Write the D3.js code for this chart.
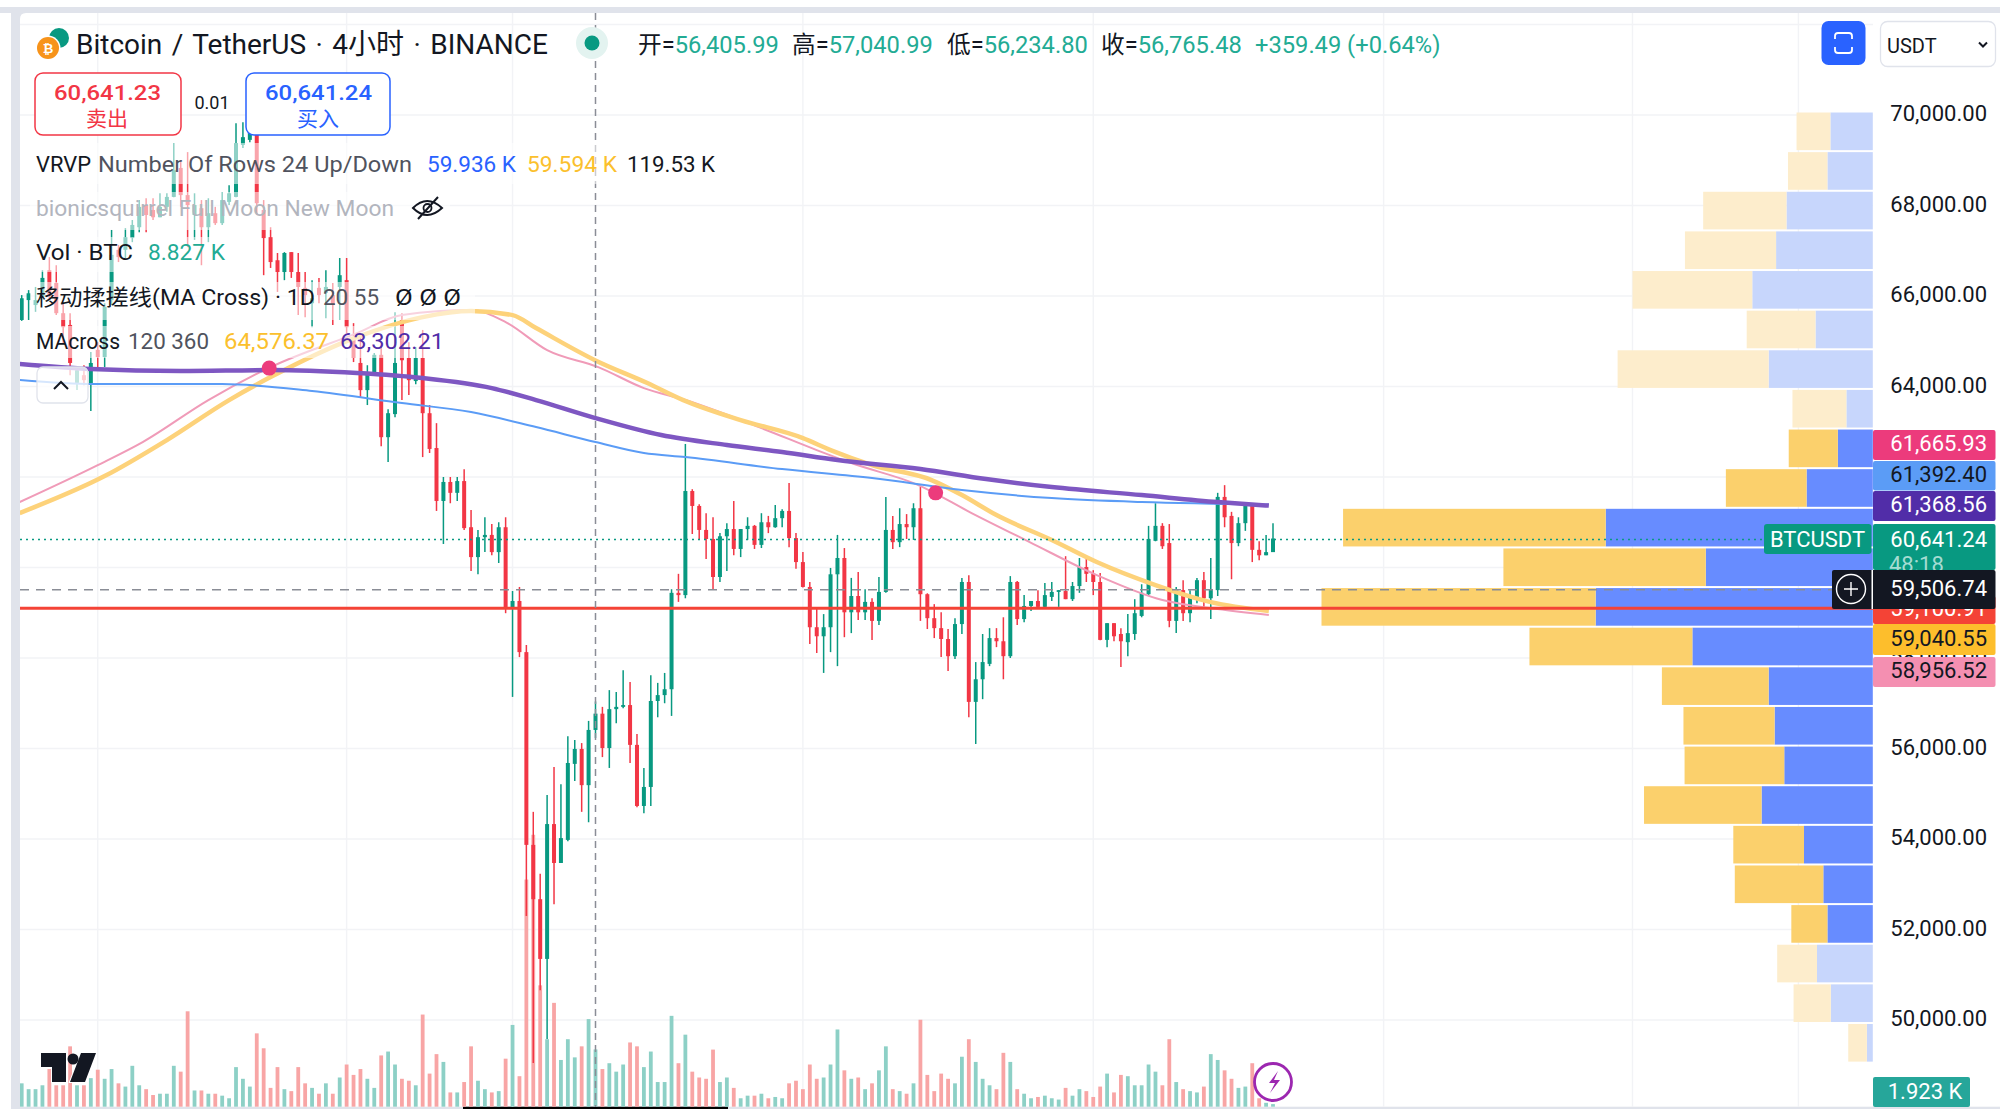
<!DOCTYPE html>
<html>
<head>
<meta charset="utf-8">
<script src="https://cdn.jsdelivr.net/npm/d3@7"></script>
<style>
  html, body { margin: 0; padding: 0; background: #fff; }
  svg { display: block; }
  text { font-family: Roboto, "Noto Sans CJK SC", sans-serif; }
</style>
</head>
<body>
<div id="root"></div>
<script>
const width = 2000;
const height = 1109;

const opens = [
  65470,65910,65800,65980,66570,66290,65620,65360,64080,64250,
  64050,64810,64650,65910,67020,67020,67280,67520,68010,67900,
  67740,67970,68190,68830,68230,67790,67940,67520,67830,67610,
  68080,68190,69340,69450,69560,67900,67300,66790,66530,66970,
  66530,66180,65840,66180,66070,66020,66200,66350,65090,64520,
  63920,64300,64700,62880,63390,65470,64630,64120,64630,63410,
  62640,61470,61890,61650,61910,60890,60230,60670,60720,60340,
  60890,59120,59260,58130,53870,52670,51350,54330,53470,53980,
  55660,55990,55190,56410,56770,56010,56870,56920,56960,56080,
  54730,55150,57050,57180,57310,59440,59390,61690,61360,60830,
  60630,59790,60690,60850,60410,60850,60920,60500,61000,60890,
  61090,61250,60650,60120,59570,58680,58480,58680,59850,60210,
  59010,59370,59010,59240,58820,59460,60830,60560,60960,60890,
  61310,59410,58880,58660,58420,58040,58750,59680,57030,57530,
  57870,58440,58370,58040,59680,58860,59150,59260,59130,59350,
  59460,59480,59300,59590,60010,59860,59680,58400,58770,58530,
  58350,58530,58930,59410,60590,60920,60540,58820,59500,58990,
  59300,59720,59320,59500,61560,61140,60540,60980,61360,60390,
  60270,60340
];
const highs = [
  66020,66130,66200,66570,66860,66680,65870,65620,64450,64470,
  64760,64980,65840,67460,67130,67500,67680,68120,68160,68160,
  68270,68270,69380,68960,69180,68270,68120,68160,67970,68300,
  68450,69820,69840,69840,69890,68120,67520,66950,66970,66970,
  66950,66530,66350,66400,66570,66290,66840,66840,65400,65140,
  64470,64740,64920,63500,65640,65620,64980,64870,65250,63590,
  63190,62000,62000,62000,62170,61270,60830,61110,60960,61000,
  61110,59480,59570,58290,54600,53230,54970,55590,55210,56270,
  56190,56120,56610,57040,56920,57290,57250,57730,57470,56320,
  55570,57620,57450,57670,59520,59860,62730,61730,61400,61200,
  61110,60760,60980,61470,60850,61110,60940,61200,61140,61380,
  61290,61870,60760,60340,59680,59100,58970,59990,60720,60430,
  59770,59900,59520,59320,59790,61560,61140,61310,61180,61420,
  61780,59430,59190,59010,58640,58880,59770,59830,57910,58530,
  58660,58660,58900,59810,59700,59390,59260,59500,59660,59680,
  59500,60250,59680,60210,60250,59940,59880,58770,58770,58660,
  58970,59300,59630,60920,61420,60980,60960,59570,59720,59500,
  59770,59900,60210,61650,61820,61230,61110,61420,61380,60580,
  60720,60980
];
const lows = [
  65450,65470,65650,65970,65910,65580,64960,64250,63920,64030,
  63460,64410,64430,65800,66750,66840,67190,67410,67410,67680,
  67740,67860,68180,67970,67080,67240,66680,67190,67570,67570,
  68010,68180,69270,69400,67790,66460,66620,66090,66350,66400,
  65580,65530,65310,65840,65510,65360,65470,65180,64540,63770,
  63590,64290,62680,62330,63320,63700,63810,64050,62440,62530,
  61250,60520,61420,61470,60830,59920,59850,60340,60270,60100,
  58990,57140,58020,52300,49050,50660,49580,52560,53470,53950,
  55280,54600,54370,56230,55810,55570,56560,56890,55680,54700,
  54570,54730,56690,57000,56720,59240,59320,60740,60610,60190,
  59520,59680,59920,60270,60230,60610,60410,60430,60760,60880,
  60890,60450,59970,59560,58310,58110,57670,58130,57820,58460,
  58550,58840,58840,58400,58730,59440,60410,60450,60630,60610,
  58820,58640,58440,58020,57710,57980,58530,56690,56100,57090,
  57820,58240,57530,58000,58730,58790,59040,59120,59120,59260,
  59130,59300,59260,59440,59680,59390,58390,58240,58370,57800,
  58040,58400,58900,59370,60580,60410,58680,58550,58820,58790,
  59210,59130,58860,59370,60890,59740,60470,60810,60120,60160,
  60270,60340
];
const closes = [
  65950,66060,65910,66400,66000,65620,65310,64520,64360,64140,
  64520,64650,65760,66910,66860,67300,67570,67970,67790,67740,
  67970,68190,68780,68230,68010,68010,67520,67830,67610,68120,
  68270,69380,69510,69600,68050,67280,66750,66530,66950,66530,
  66200,66020,65950,66020,66200,65800,66460,65310,64630,63920,
  64320,64700,62880,63410,64520,64580,64140,64630,63410,62620,
  61470,61890,61650,61910,60870,60230,60670,60720,60340,60890,
  59100,59260,58130,53870,52670,51350,54330,53470,54020,55680,
  55990,55190,56410,56770,56010,56870,56920,56960,56080,54730,
  55150,57050,57180,57310,59440,59390,61690,61360,60830,60630,
  59790,60690,60850,60410,60850,60920,60500,61000,60890,61090,
  61250,60650,60120,59570,58680,58480,58680,59850,60210,59010,
  59370,59010,59240,58820,59460,60830,60560,60960,60890,61310,
  59410,58880,58660,58420,58040,58750,59680,57030,57530,57910,
  58440,58370,58040,59680,58860,59150,59260,59130,59390,59460,
  59500,59300,59590,60010,59860,59680,58400,58770,58480,58370,
  58550,58990,59440,60630,60920,60470,58820,59520,58990,59350,
  59720,59320,59520,61560,61110,60540,60980,61360,60390,60270,
  60340,60640
];
// thousands of BTC
const volumes = [
  3.6,2.7,2.7,3.3,5.8,3.3,3.3,9.3,3.3,3.3,
  4.4,5.7,4.3,5.8,3.6,3.1,6.3,3.3,2.7,1.8,
  2.0,2.0,6.3,5.4,14.7,2.5,2.5,2.0,2.0,1.7,
  1.3,6.1,4.3,3.1,11.3,9.0,2.9,6.1,2.7,2.4,
  6.1,3.6,2.9,2.0,3.6,2.0,4.5,6.5,4.9,5.8,
  4.3,2.9,7.9,8.5,6.5,4.3,4.0,3.3,14.2,5.1,
  8.1,6.9,2.2,2.2,3.8,9.3,4.0,2.7,2.2,2.4,
  7.4,12.6,4.7,35.0,41.9,18.7,10.4,16.0,7.2,10.4,
  7.6,9.3,13.5,8.827,5.8,6.7,5.4,6.5,9.9,9.3,
  6.1,8.5,3.8,3.8,14.0,6.7,11.1,5.4,4.5,4.3,
  8.8,3.8,4.5,2.9,1.3,1.7,1.7,2.0,1.3,1.5,
  1.3,3.6,4.0,2.7,6.5,4.3,4.5,6.5,11.9,5.6,
  4.3,4.5,2.7,3.6,5.6,9.3,2.7,2.4,2.0,3.6,
  13.4,4.9,2.4,5.1,4.3,3.6,7.7,10.4,6.9,4.3,
  3.3,2.7,8.3,6.9,2.7,2.0,1.3,1.5,1.7,1.3,
  1.1,2.9,1.7,2.7,2.4,1.5,3.1,5.1,2.2,4.9,
  4.7,3.3,3.3,6.5,5.4,3.3,10.4,3.8,2.7,2.4,
  2.2,3.1,8.1,7.2,5.6,4.3,2.9,3.1,6.7,1.3,
  0.6,0.4
];

// moving averages: bar index + price
const maSlowBars = [-0.3,10,23,36,48.5,58,68,74.4,83,92.5,102,110,118,130,139.5,149,162,173,180.4];
const maSlowSmooth = [64496,64385,64341,64363,64297,64186,63965,63700,63302,62927,62706,62551,62374,62175,61954,61777,61600,61446,61368];
const maSlowSimpleBars = [-0.3,10.5,29,42,55,65,74.4,83,90,96,110,123,136,149,162,180.4];
const maSlowSimple = [64142,64054,64054,63899,63634,63435,63103,62772,62529,62440,62175,61976,61711,61534,61446,61392];
const maFastSmoothBars = [-0.3,12,21,30,36,48.5,58,65,71,74.4,83,90.5,95.7,104,113,117,123,131.6,136,141,149,155.5,164,172,180.4];
const maFastSmooth = [61203,62020,62816,63700,64208,65092,65534,65667,65578,65291,64576,64076,63700,63258,62860,62595,62263,61932,61601,61158,60606,60120,59612,59236,59040];
const maFastSimpleBars = [-0.3,11,17.5,27,36,48.5,55,65,70,76,83.4,90,96,107,115,120,129.7,137.4,145.8,155.5,165,173,180.4];
const maFastSimple = [61446,62263,62772,63700,64429,65181,65578,65689,65424,64805,64429,63965,63700,63081,62595,62308,61822,61203,60562,59833,59280,59081,58950];

const crossBars = [35.8, 132.2];
const crossPrices = [64407, 61650];

// VRVP, 24 rows top to bottom, thousands of BTC
const vrvpTop = 70055;
const vrvpBottom = 49036;
const vrvpUp = [1.14,1.22,2.32,2.60,3.24,1.54,2.80,0.71,0.94,1.78,7.18,4.49,7.45,4.85,2.80,2.64,2.38,2.99,1.85,1.33,1.22,1.50,1.13,0.16];
const vrvpDown = [0.91,1.06,2.24,2.45,3.22,1.85,4.06,1.45,1.32,2.17,7.06,5.44,7.37,4.38,2.87,2.45,2.68,3.16,1.90,2.38,0.97,1.07,1.00,0.50];
const vrvpFaded = [0,1,2,3,4,5,6,7,21,22,23];

const priceTicks = [50000,52000,54000,56000,58000,60000,62000,64000,66000,68000,70000];
const gridPrices = priceTicks.concat([72000]);
const gridBars = [11,47,71,113,155,197,233,257];

const lastPrice = 60641.24;
const crossPrice = 59506.74;
const alertPrice = 59100.91;
const crossBar = 83;

const x = d3.scaleLinear().domain([0, 181]).range([21.7, 1273]);
const y = d3.scaleLinear().domain([50000, 70000]).range([1020, 115]);
const yVol = d3.scaleLinear().domain([0, 10]).range([1106.7, 1041.8]);
const xProfile = d3.scaleLinear().domain([0, 14.82]).range([1872.8, 1321.5]);

const green = "#089981";
const red = "#f23645";

const bars = d3.range(opens.length).map(i => ({
  i, o: opens[i], h: highs[i], l: lows[i], c: closes[i], v: volumes[i]
}));

const svg = d3.select("#root")
  .append("svg")
  .attr("width", width)
  .attr("height", height)
  .attr("viewBox", [0, 0, width, height]);

svg.append("defs").append("clipPath").attr("id", "pane")
  .append("rect").attr("x", 20).attr("y", 13).attr("width", 1853).attr("height", 1094);

// page frame
svg.append("rect").attr("x", 0).attr("y", 7).attr("width", width).attr("height", 6).attr("fill", "#e0e3eb");
svg.append("rect").attr("x", 11).attr("y", 7).attr("width", 9).attr("height", 1102).attr("fill", "#e0e3eb");
svg.append("rect").attr("x", 0).attr("y", 13).attr("width", 11).attr("height", 1096).attr("fill", "#fff");
svg.append("path").attr("d", "M20 13h6q-6 0-6 6z").attr("fill", "#e0e3eb");
svg.append("rect").attr("x", 20).attr("y", 1106.7).attr("width", 1980).attr("height", 2.3).attr("fill", "#e0e3eb");
svg.append("rect").attr("x", 463).attr("y", 1106.7).attr("width", 265).attr("height", 2.3).attr("fill", "#000");

const pane = svg.append("g").attr("clip-path", "url(#pane)");

// grid
pane.selectAll(".hgrid").data(gridPrices).join("line")
  .attr("x1", 20).attr("x2", 1873)
  .attr("y1", d => y(d)).attr("y2", d => y(d))
  .attr("stroke", "#f2f3f6").attr("stroke-width", 1.4);
pane.selectAll(".vgrid").data(gridBars).join("line")
  .attr("x1", d => x(d)).attr("x2", d => x(d))
  .attr("y1", 13).attr("y2", 1107)
  .attr("stroke", "#f2f3f6").attr("stroke-width", 1.4);

// volume profile
const rowH = (y(vrvpBottom) - y(vrvpTop)) / vrvpUp.length;
const rows = vrvpUp.map((u, i) => ({ i, u, d: vrvpDown[i], faded: vrvpFaded.includes(i) }));
const rowY = i => y(vrvpTop) + i * rowH;
pane.selectAll(".up").data(rows).join("rect")
  .attr("x", d => xProfile(d.u))
  .attr("y", d => rowY(d.i))
  .attr("width", d => xProfile(0) - xProfile(d.u))
  .attr("height", rowH - 2)
  .attr("fill", d => d.faded ? "#c7d6fc" : "#678cff");
pane.selectAll(".down").data(rows).join("rect")
  .attr("x", d => xProfile(d.u + d.d))
  .attr("y", d => rowY(d.i))
  .attr("width", d => xProfile(d.u) - xProfile(d.u + d.d))
  .attr("height", rowH - 2)
  .attr("fill", d => d.faded ? "#fdedcc" : "#fbd06c");

// volume bars
pane.selectAll(".vol").data(bars).join("rect")
  .attr("x", d => x(d.i) - 1.9)
  .attr("width", 3.8)
  .attr("y", d => yVol(d.v))
  .attr("height", d => yVol(0) - yVol(d.v))
  .attr("fill", d => d.c >= d.o ? "#8dd0c6" : "#f8a5a5");

// candles
const candle = pane.selectAll(".candle").data(bars).join("g")
  .attr("fill", d => d.c >= d.o ? green : red)
  .attr("stroke", d => d.c >= d.o ? green : red);
candle.append("line")
  .attr("x1", d => x(d.i)).attr("x2", d => x(d.i))
  .attr("y1", d => y(d.h)).attr("y2", d => y(d.l))
  .attr("stroke-width", 1.5);
candle.append("rect")
  .attr("x", d => x(d.i) - 2)
  .attr("width", 4)
  .attr("y", d => y(Math.max(d.o, d.c)))
  .attr("height", d => Math.max(1, Math.abs(y(d.o) - y(d.c))))
  .attr("stroke", "none");

// moving averages
const maLine = d3.line().x(d => x(d[0])).y(d => y(d[1])).curve(d3.curveMonotoneX);
const maSeries = [
  { bars: maFastSimpleBars, prices: maFastSimple, color: "#f09bb8", w: 2 },
  { bars: maFastSmoothBars, prices: maFastSmooth, color: "#fdd27a", w: 4.5 },
  { bars: maSlowSimpleBars, prices: maSlowSimple, color: "#5b9cf6", w: 2 },
  { bars: maSlowBars, prices: maSlowSmooth, color: "#7e57c2", w: 4.5 }
];
pane.selectAll(".ma").data(maSeries).join("path")
  .attr("d", d => maLine(d3.zip(d.bars, d.prices)))
  .attr("fill", "none")
  .attr("stroke", d => d.color)
  .attr("stroke-width", d => d.w);
pane.selectAll(".cross").data(crossBars).join("circle")
  .attr("cx", d => x(d))
  .attr("cy", (d, i) => y(crossPrices[i]))
  .attr("r", 7.5)
  .attr("fill", "#ec3b7c");

// price lines
pane.append("line")
  .attr("x1", 20).attr("x2", 1873)
  .attr("y1", y(lastPrice) + 1).attr("y2", y(lastPrice) + 1)
  .attr("stroke", green).attr("stroke-width", 1.6).attr("stroke-dasharray", "2 4");
pane.append("line")
  .attr("x1", 20).attr("x2", 1873)
  .attr("y1", y(alertPrice)).attr("y2", y(alertPrice))
  .attr("stroke", "#f44336").attr("stroke-width", 3);
pane.append("line")
  .attr("x1", 20).attr("x2", 1873)
  .attr("y1", y(crossPrice)).attr("y2", y(crossPrice))
  .attr("stroke", "#8a8d96").attr("stroke-width", 1.5).attr("stroke-dasharray", "9 7");
pane.append("line")
  .attr("x1", x(crossBar)).attr("x2", x(crossBar))
  .attr("y1", 13).attr("y2", 1107)
  .attr("stroke", "#8a8d96").attr("stroke-width", 1.5).attr("stroke-dasharray", "7 5");

// legend row backgrounds fade what is under them
const legendBands = [[30, 143, 690, 41], [30, 192, 420, 38], [30, 237, 205, 35], [30, 282, 445, 38], [30, 326, 420, 32]];
svg.selectAll(".band").data(legendBands).join("rect")
  .attr("x", d => d[0]).attr("y", d => d[1]).attr("width", d => d[2]).attr("height", d => d[3])
  .attr("fill", "#fff").attr("opacity", 0.55);

// price axis
const axis = d3.axisRight(y).tickValues(priceTicks).tickFormat(d3.format(",.2f")).tickSize(0).tickPadding(0);
const axisG = svg.append("g").attr("transform", "translate(1987,-1.5)").call(axis);
axisG.select(".domain").remove();
axisG.selectAll("text")
  .attr("text-anchor", "end")
  .attr("font-size", 22)
  .attr("font-family", "Roboto")
  .attr("fill", "#131722");

// price labels
const priceLabels = [
  { t: "59,100.91", top: 596, h: 28, bg: "#f44336", fg: "#fff" },
  { t: "58,956.52", top: 657, h: 30, bg: "#f48fb1", fg: "#131722" },
  { t: "61,665.93", top: 430, h: 30, bg: "#ec3b7c", fg: "#fff" },
  { t: "61,392.40", top: 461, h: 29.5, bg: "#5b9cf6", fg: "#131722" },
  { t: "61,368.56", top: 491, h: 30, bg: "#512da8", fg: "#fff" },
  { t: "59,040.55", top: 624, h: 31, bg: "#fdbe2c", fg: "#131722" }
];
const labelG = svg.selectAll(".plabel").data(priceLabels).join("g");
labelG.append("rect")
  .attr("x", 1873).attr("y", d => d.top).attr("width", 122.5).attr("height", d => d.h)
  .attr("rx", 2).attr("fill", d => d.bg);
labelG.append("text")
  .attr("x", 1987).attr("y", d => d.top + d.h / 2 + 6)
  .attr("text-anchor", "end").attr("font-size", 22)
  .attr("fill", d => d.fg)
  .text(d => d.t);

// last price + countdown
svg.append("rect").attr("x", 1873).attr("y", 524).attr("width", 122.5).attr("height", 46).attr("rx", 2).attr("fill", green);
svg.append("text").attr("x", 1987).attr("y", 547).attr("text-anchor", "end").attr("font-size", 22).attr("fill", "#fff").text("60,641.24");
svg.append("text").attr("x", 1889).attr("y", 572).attr("font-size", 22).attr("fill", "#a5dcd2").text("48:18");
svg.append("rect").attr("x", 1764).attr("y", 524).attr("width", 107.5).attr("height", 30).attr("rx", 3).attr("fill", green);
svg.append("text").attr("x", 1817.5).attr("y", 547).attr("text-anchor", "middle").attr("font-size", 22).attr("fill", "#fff").text("BTCUSDT");

// crosshair label
svg.append("rect").attr("x", 1832).attr("y", 570).attr("width", 163.5).attr("height", 39).attr("rx", 2).attr("fill", "#131722");
svg.append("rect").attr("x", 1871.5).attr("y", 570).attr("width", 1.5).attr("height", 39).attr("fill", "#fff");
svg.append("text").attr("x", 1987).attr("y", 596).attr("text-anchor", "end").attr("font-size", 22).attr("fill", "#fff").text("59,506.74");
svg.append("circle").attr("cx", 1851).attr("cy", 589).attr("r", 14.5).attr("fill", "none").attr("stroke", "#fff").attr("stroke-width", 1.4);
svg.append("path").attr("d", "M1844 589h14M1851 582v14").attr("stroke", "#fff").attr("stroke-width", 1.4);

// volume label
svg.append("rect").attr("x", 1873).attr("y", 1077).attr("width", 97).attr("height", 30).attr("rx", 2).attr("fill", "#26a69a");
svg.append("text").attr("x", 1925).attr("y", 1099).attr("text-anchor", "middle").attr("font-size", 22).attr("fill", "#fff").text("1.923 K");

// title row
svg.append("circle").attr("cx", 59).attr("cy", 38).attr("r", 10).attr("fill", "#089981");
svg.append("circle").attr("cx", 48).attr("cy", 48).attr("r", 12.5).attr("fill", "#fff");
svg.append("circle").attr("cx", 48).attr("cy", 48).attr("r", 11).attr("fill", "#f7931a");
svg.append("text").attr("x", 48).attr("y", 53).attr("text-anchor", "middle").attr("font-size", 13).attr("font-weight", 700).attr("fill", "#fff").text("₿");
svg.append("text").attr("x", 76).attr("y", 54).attr("font-size", 28).attr("word-spacing", 2.5).attr("fill", "#131722")
  .text("Bitcoin / TetherUS · 4小时 · BINANCE");
svg.append("circle").attr("cx", 592).attr("cy", 43).attr("r", 16).attr("fill", "#e3f3f0");
svg.append("circle").attr("cx", 592).attr("cy", 43).attr("r", 7.5).attr("fill", green);

const ohlcX = [638, 792, 947, 1101];
const ohlcKeys = ["开=", "高=", "低=", "收="];
const ohlcVals = ["56,405.99", "57,040.99", "56,234.80", "56,765.48"];
ohlcX.forEach((px, i) => {
  const t = svg.append("text").attr("x", px).attr("y", 53).attr("font-size", 23.7);
  t.append("tspan").attr("fill", "#131722").text(ohlcKeys[i]);
  t.append("tspan").attr("fill", "#22ab94").text(ohlcVals[i]);
});
svg.append("text").attr("x", 1255).attr("y", 53).attr("font-size", 23.7).attr("fill", "#22ab94").text("+359.49 (+0.64%)");

// buy / sell boxes
svg.append("rect").attr("x", 35).attr("y", 73).attr("width", 146).attr("height", 62).attr("rx", 8)
  .attr("fill", "#fff").attr("stroke", "#f23645").attr("stroke-width", 1.5);
svg.append("rect").attr("x", 246).attr("y", 73).attr("width", 144).attr("height", 62).attr("rx", 8)
  .attr("fill", "#fff").attr("stroke", "#2962ff").attr("stroke-width", 1.5);
svg.append("text").attr("x", 54).attr("y", 100).attr("textLength", 107).attr("lengthAdjust", "spacingAndGlyphs").attr("font-size", 21).attr("font-weight", 500).attr("fill", "#f23645").text("60,641.23");
svg.append("text").attr("x", 107).attr("y", 126).attr("text-anchor", "middle").attr("font-size", 21).attr("fill", "#f23645").text("卖出");
svg.append("text").attr("x", 265).attr("y", 100).attr("textLength", 107).attr("lengthAdjust", "spacingAndGlyphs").attr("font-size", 21).attr("font-weight", 500).attr("fill", "#2962ff").text("60,641.24");
svg.append("text").attr("x", 318).attr("y", 126).attr("text-anchor", "middle").attr("font-size", 21).attr("fill", "#2962ff").text("买入");
svg.append("text").attr("x", 212).attr("y", 109).attr("text-anchor", "middle").attr("font-size", 18).attr("fill", "#131722").text("0.01");

// legend text
const legendItems = [
  { x: 36, y: 172, w: 55, t: "VRVP", c: "#131722" },
  { x: 98, y: 172, w: 314, t: "Number Of Rows 24 Up/Down", c: "#50535e" },
  { x: 427, y: 172, w: 89, t: "59.936 K", c: "#2962ff" },
  { x: 527, y: 172, w: 90, t: "59.594 K", c: "#fbc02d" },
  { x: 627, y: 172, w: 88, t: "119.53 K", c: "#131722" },
  { x: 36, y: 216, w: 358, t: "bionicsquirrel Full Moon New Moon", c: "#b2b5be" },
  { x: 36, y: 260, w: 97, t: "Vol · BTC", c: "#131722" },
  { x: 148, y: 260, w: 77, t: "8.827 K", c: "#22ab94" },
  { x: 36, y: 305, w: 279, t: "移动揉搓线(MA Cross) · 1D", c: "#131722" },
  { x: 323, y: 305, w: 56, t: "20 55", c: "#50535e" },
  { x: 395, y: 305, w: 66, t: "Ø Ø Ø", c: "#131722" },
  { x: 36, y: 349, w: 84, t: "MAcross", c: "#131722" },
  { x: 128, y: 349, w: 81, t: "120 360", c: "#50535e" },
  { x: 224, y: 349, w: 105, t: "64,576.37", c: "#fbc02d" },
  { x: 340, y: 349, w: 104, t: "63,302.21", c: "#512da8" }
];
svg.selectAll(".legend").data(legendItems).join("text")
  .attr("x", d => d.x).attr("y", d => d.y)
  .attr("font-size", 22)
  .attr("textLength", d => d.w)
  .attr("lengthAdjust", "spacingAndGlyphs")
  .attr("fill", d => d.c)
  .text(d => d.t);

// hidden-eye icon
svg.append("path").attr("d", "M413 208q14-14 29 0q-15 14-29 0zM418 219l20-22")
  .attr("fill", "none").attr("stroke", "#131722").attr("stroke-width", 2);
svg.append("circle").attr("cx", 427.5).attr("cy", 208).attr("r", 4).attr("fill", "none").attr("stroke", "#131722").attr("stroke-width", 1.8);

// collapse button
svg.append("rect").attr("x", 37).attr("y", 367).attr("width", 51).attr("height", 36).attr("rx", 6)
  .attr("fill", "#fff").attr("fill-opacity", 0.75).attr("stroke", "#e0e3eb").attr("stroke-width", 1.3);
svg.append("path").attr("d", "M54 389l7-7l7 7").attr("fill", "none").attr("stroke", "#131722").attr("stroke-width", 2);

// top right controls
svg.append("rect").attr("x", 1821.5).attr("y", 21).attr("width", 44).attr("height", 44).attr("rx", 7).attr("fill", "#2962ff");
svg.append("path").attr("d", "M1835 39v-3q0-3 3-3h11q3 0 3 3v3M1835 47v3q0 3 3 3h11q3 0 3-3v-3")
  .attr("fill", "none").attr("stroke", "#fff").attr("stroke-width", 1.8);
svg.append("rect").attr("x", 1880.5).attr("y", 21.5).attr("width", 115).attr("height", 45).attr("rx", 7)
  .attr("fill", "#fff").attr("stroke", "#e0e3eb").attr("stroke-width", 1.3);
svg.append("text").attr("x", 1887).attr("y", 53).attr("font-size", 20).attr("fill", "#131722").text("USDT");
svg.append("path").attr("d", "M1979 42.5l4 4l4-4").attr("fill", "none").attr("stroke", "#131722").attr("stroke-width", 2);

// tradingview logo
svg.append("path")
  .attr("d", "M41 1053h25v29h-14v-15h-11zM96 1053l-11 29h-15l11-29z")
  .attr("fill", "#131722").attr("stroke", "#fff").attr("stroke-width", 2).attr("paint-order", "stroke");
svg.append("circle").attr("cx", 73).attr("cy", 1059).attr("r", 5.5).attr("fill", "#131722");

// lightning badge
svg.append("circle").attr("cx", 1273).attr("cy", 1082).attr("r", 18.5).attr("fill", "#fff").attr("stroke", "#9c27b0").attr("stroke-width", 2.8);
svg.append("path").attr("d", "M1278 1071l-9 12h6l-5 10l10-13h-6z").attr("fill", "#9c27b0");
</script>
</body>
</html>
